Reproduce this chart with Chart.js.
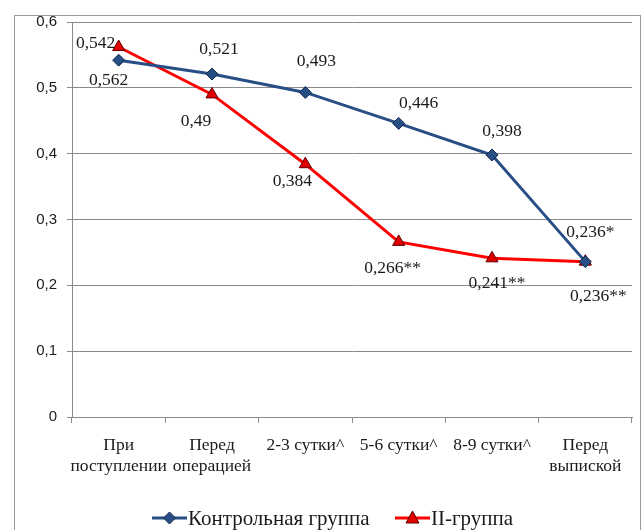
<!DOCTYPE html>
<html>
<head>
<meta charset="utf-8">
<script src="https://cdn.jsdelivr.net/npm/chart.js@4"></script>
<style>
  html, body { margin: 0; padding: 0; background: #fff; }
  #wrap { width: 644px; height: 530px; }
</style>
</head>
<body>
<div id="wrap"><canvas id="chart" width="644" height="530"></canvas></div>
<script>
const categories = [["При", "поступлении"], ["Перед", "операцией"], "2-3 сутки^", "5-6 сутки^", "8-9 сутки^", ["Перед", "выпиской"]];
const controlValues = [0.542, 0.521, 0.493, 0.446, 0.398, 0.236];
const groupIIValues = [0.562, 0.49, 0.384, 0.266, 0.241, 0.236];
const controlLabels = ["0,542", "0,521", "0,493", "0,446", "0,398", "0,236*"];
const groupIILabels = ["0,562", "0,49", "0,384", "0,266**", "0,241**", "0,236**"];
const seriesNames = ["Контрольная группа", "II-группа"];
const yTickValues = [0, 0.1, 0.2, 0.3, 0.4, 0.5, 0.6];

// hand-placed label offsets (dx, dy from the point), like the moved labels in the source
const controlOffsets = [[-23, -17], [7, -25], [11, -31], [20, -20], [10, -24], [5, -29]];
const groupIIOffsets = [[-10, 33], [-16, 27], [-13, 17], [-6, 27], [5, 25], [13, 35]];

const BLUE = "#274f86";
const RED = "#ff0000";
const SERIF = "'Liberation Serif', 'DejaVu Serif', serif";
const SANS = "'Liberation Sans', Arial, sans-serif";

const frame = {
  id: "frame",
  beforeDraw(chart) {
    const ctx = chart.ctx;
    ctx.save();
    ctx.strokeStyle = "#9a9a9a";
    ctx.lineWidth = 1;
    ctx.strokeRect(14.5, 15.5, 626, 530);
    ctx.restore();
  },
};

const pointLabels = {
  id: "pointLabels",
  afterDatasetsDraw(chart) {
    const ctx = chart.ctx;
    const sets = [[controlLabels, controlOffsets], [groupIILabels, groupIIOffsets]];
    ctx.save();
    ctx.font = "17.5px " + SERIF;
    ctx.fillStyle = "#1a1a1a";
    ctx.textAlign = "center";
    ctx.textBaseline = "middle";
    sets.forEach(([texts, offsets], di) => {
      chart.getDatasetMeta(di).data.forEach((pt, i) => {
        ctx.fillText(texts[i], pt.x + offsets[i][0], pt.y + offsets[i][1]);
      });
    });
    ctx.restore();
  },
};

function drawMarker(ctx, style, x, y) {
  ctx.beginPath();
  if (style === "rectRot") {
    ctx.moveTo(x, y - 6); ctx.lineTo(x + 6, y); ctx.lineTo(x, y + 6); ctx.lineTo(x - 6, y);
    ctx.fillStyle = BLUE; ctx.strokeStyle = "#13294a";
  } else {
    ctx.moveTo(x, y - 7); ctx.lineTo(x + 6.5, y + 5); ctx.lineTo(x - 6.5, y + 5);
    ctx.fillStyle = "#e00000"; ctx.strokeStyle = "#600000";
  }
  ctx.closePath();
  ctx.lineWidth = 1;
  ctx.fill();
  ctx.stroke();
}

const legendBox = {
  id: "legendBox",
  afterDraw(chart) {
    const ctx = chart.ctx;
    const y = 518;
    const items = [
      { x0: 152, x1: 187, color: BLUE, style: "rectRot", name: seriesNames[0] },
      { x0: 395, x1: 430, color: RED, style: "triangle", name: seriesNames[1] },
    ];
    ctx.save();
    ctx.font = "21px " + SERIF;
    ctx.textBaseline = "middle";
    for (const it of items) {
      ctx.strokeStyle = it.color;
      ctx.lineWidth = 3;
      ctx.beginPath();
      ctx.moveTo(it.x0, y);
      ctx.lineTo(it.x1, y);
      ctx.stroke();
      drawMarker(ctx, it.style, (it.x0 + it.x1) / 2, y);
      ctx.fillStyle = "#1a1a1a";
      ctx.fillText(it.name, it.x1 + 1, y + 1);
    }
    ctx.restore();
  },
};

new Chart(document.getElementById("chart"), {
  type: "line",
  data: {
    labels: categories,
    datasets: [
      {
        label: seriesNames[0],
        data: controlValues,
        borderColor: BLUE,
        borderWidth: 3,
        pointStyle: "rectRot",
        pointRadius: 6,
        pointBackgroundColor: BLUE,
        pointBorderColor: "#13294a",
        pointBorderWidth: 1,
        tension: 0,
      },
      {
        label: seriesNames[1],
        data: groupIIValues,
        borderColor: RED,
        borderWidth: 3,
        pointStyle: "triangle",
        pointRadius: 7,
        pointBackgroundColor: "#e00000",
        pointBorderColor: "#600000",
        pointBorderWidth: 1,
        tension: 0,
      },
    ],
  },
  options: {
    responsive: false,
    animation: false,
    layout: { padding: { left: 0, right: 12, top: 22, bottom: 0 } },
    plugins: { legend: { display: false }, tooltip: { enabled: false } },
    scales: {
      x: {
        offset: true,
        afterFit: (s) => { s.height = 113; },
        grid: { offset: true, drawOnChartArea: false, drawTicks: true, tickLength: 6, color: "#8a8a8a" },
        border: { display: true, color: "#8a8a8a", width: 1 },
        ticks: {
          color: "#1a1a1a",
          padding: 12,
          maxRotation: 0,
          autoSkip: false,
          font: { family: SERIF, size: 17.5, lineHeight: 1.2 },
        },
      },
      y: {
        min: 0,
        max: 0.6,
        afterFit: (s) => { s.width = 72; },
        afterBuildTicks: (s) => { s.ticks = yTickValues.map((v) => ({ value: v })); },
        grid: { color: "#8a8a8a", lineWidth: 1, tickLength: 5, drawTicks: true },
        border: { display: true, color: "#8a8a8a" },
        ticks: {
          color: "#1a1a1a",
          padding: 10,
          font: { family: SANS, size: 15 },
          callback: (v) => String(v).replace(".", ","),
        },
      },
    },
  },
  plugins: [frame, pointLabels, legendBox],
});
</script>
</body>
</html>
